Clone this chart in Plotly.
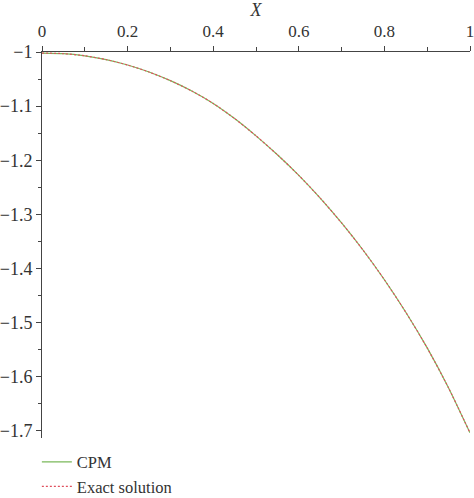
import plotly.graph_objects as go

# Values (x from 0 to 1, step 0.05)
x_vals = [0.0, 0.05, 0.1, 0.15, 0.2, 0.25, 0.3, 0.35, 0.4, 0.45, 0.5,
          0.55, 0.6, 0.65, 0.7, 0.75, 0.8, 0.85, 0.9, 0.95, 1.0]
cpm_vals = [-1.002, -1.003, -1.007, -1.014, -1.024, -1.037, -1.053, -1.072, -1.095, -1.123, -1.155,
            -1.190, -1.228, -1.270, -1.316, -1.366, -1.421, -1.481, -1.547, -1.621, -1.704]
exact_vals = [-1.002, -1.003, -1.007, -1.014, -1.024, -1.037, -1.053, -1.072, -1.095, -1.123, -1.155,
              -1.190, -1.228, -1.270, -1.316, -1.366, -1.421, -1.481, -1.547, -1.621, -1.704]

x_ticks = [0, 0.2, 0.4, 0.6, 0.8, 1]
x_ticktext = ["0", "0.2", "0.4", "0.6", "0.8", "1"]
y_ticks = [-1, -1.1, -1.2, -1.3, -1.4, -1.5, -1.6, -1.7]

font_family = "Liberation Serif"
axis_color = "#444444"

fig = go.Figure()

fig.add_trace(go.Scatter(
    x=x_vals, y=cpm_vals,
    mode="lines",
    name="CPM",
    line=dict(color="#7ab85a", width=1.2, shape="spline", smoothing=0.6),
))

fig.add_trace(go.Scatter(
    x=x_vals, y=exact_vals,
    mode="lines",
    name="Exact solution",
    line=dict(color="#e0505e", width=1.2, dash="2px,2px", shape="spline", smoothing=0.6),
))

fig.update_layout(
    width=474,
    height=498,
    margin=dict(l=42, r=4, t=52, b=60),
    paper_bgcolor="white",
    plot_bgcolor="white",
    font=dict(family=font_family, size=17, color="#333333"),
    showlegend=True,
    legend=dict(
        orientation="v",
        x=-0.012, xanchor="left",
        yref="container",
        y=0.107, yanchor="top",
        bgcolor="rgba(0,0,0,0)",
        font=dict(family=font_family, size=16.5, color="#333333"),
        itemwidth=30,
    ),
    xaxis=dict(
        range=[0, 1],
        side="top",
        automargin=False,
        title=dict(text="<i>X</i>", standoff=16, font=dict(size=18)),
        tickvals=x_ticks,
        ticktext=x_ticktext,
        tickfont=dict(size=17),
        ticks="outside",
        ticklen=5,
        tickwidth=1,
        tickcolor=axis_color,
        ticklabelstandoff=2,
        ticklabeloverflow="allow",
        minor=dict(dtick=0.1, ticks="outside", ticklen=4, tickcolor=axis_color),
        showline=True,
        linecolor=axis_color,
        linewidth=1,
        showgrid=False,
        zeroline=False,
    ),
    yaxis=dict(
        range=[-1.7135, -1.0],
        automargin=False,
        tickvals=y_ticks,
        tickfont=dict(size=18),
        ticks="outside",
        ticklen=5,
        tickwidth=1,
        tickcolor=axis_color,
        ticklabelstandoff=0,
        ticklabeloverflow="allow",
        minor=dict(dtick=0.05, tick0=-1, ticks="outside", ticklen=3, tickcolor=axis_color),
        showline=True,
        linecolor=axis_color,
        linewidth=1,
        showgrid=False,
        zeroline=False,
    ),
)

# drop the browser's default body margin so the figure sits at the window corner
fig.write_html("out.html", config={"displayModeBar": False},
               post_script="document.body.style.margin='0';")
